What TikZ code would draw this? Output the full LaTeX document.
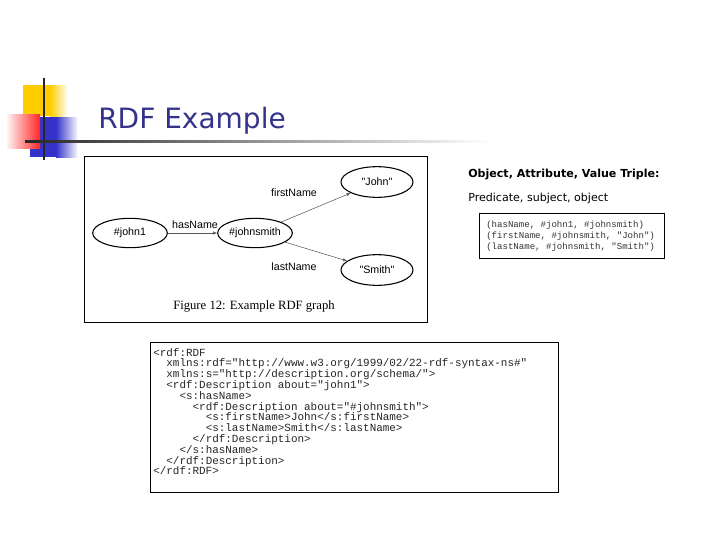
\documentclass[tikz,border=0pt]{standalone}
\usepackage{fontspec}
\setmainfont{Liberation Serif}
\newfontfamily\titlefont{DejaVu Sans}
\newfontfamily\labfont{Liberation Sans}
\newfontfamily\codefont{Liberation Mono}
\usetikzlibrary{shapes.geometric,arrows.meta}
\definecolor{navy}{RGB}{51,51,140}
\definecolor{sqyellow}{RGB}{255,204,0}
\definecolor{sqblue}{RGB}{51,51,204}
\begin{document}
\begin{tikzpicture}[x=0.75pt,y=-0.75pt,
  ell/.style={ellipse,draw,thick,inner sep=0pt,font=\labfont\fontsize{8}{9}\selectfont},
  edge/.style={draw=gray!70!black,-{Latex[length=3pt,width=2.5pt]}},
  elab/.style={font=\labfont\fontsize{8}{9}\selectfont},
  code/.style={anchor=base west,font=\codefont\fontsize{8.2}{10}\selectfont,inner sep=0pt},
  tcode/.style={anchor=base west,font=\codefont\fontsize{6.8}{8}\selectfont,inner sep=0pt,text=gray!40!black}]
\useasboundingbox (0,0) rectangle (720,540);
\fill[white] (0,0) rectangle (720,540);
% decoration
\fill[sqyellow] (23,85) rectangle (56,116);
\shade[left color=sqyellow, right color=white] (50,85) rectangle (68,116);
\fill[sqblue] (30,117) rectangle (62,157);
\shade[left color=sqblue, right color=white] (56,117) rectangle (78,157);
\shade[left color=red!5, right color=red!85] (7,114) rectangle (40,148);
\draw[line width=1.5pt,black!85] (44,78) -- (44,160);
\shade[left color=black!85, right color=white] (25,140) rectangle (490,142.5);
\node[anchor=base west,text=navy,font=\titlefont\fontsize{21}{24}\selectfont,inner sep=0pt] (title) at (98,128) {RDF Example};
% figure
\draw[semithick] (84,156) rectangle (427,322);
\node[ell,minimum width=56pt,minimum height=22pt] (j1) at (130,233) {\#john1};
\node[ell,minimum width=56pt,minimum height=22pt] (js) at (255,233) {\#johnsmith};
\node[ell,minimum width=54pt,minimum height=23pt] (jo) at (377,182) {"John"};
\node[ell,minimum width=54pt,minimum height=23pt] (sm) at (377,270) {"Smith"};
\draw[edge] (j1) -- (js);
\draw[edge] (js) -- (jo);
\draw[edge] (js) -- (sm);
\node[elab] (l1) at (195,225) {hasName};
\node[elab] (l2) at (294,193) {firstName};
\node[elab] (l3) at (294,267) {lastName};
\node[font=\fontsize{9.5}{11}\selectfont] (cap) at (254,306) {Figure 12: Example RDF graph};
% right text
\node[anchor=west,font=\titlefont\bfseries\fontsize{8.3}{10}\selectfont,inner sep=0pt] (h1) at (468,174) {Object, Attribute, Value Triple:};
\node[anchor=west,font=\titlefont\fontsize{8.3}{10}\selectfont,inner sep=0pt] (h2) at (468,198) {Predicate, subject, object};
\draw (479,213) rectangle (664,258);
\node[tcode] (t1) at (486,227) {(hasName, \#john1, \#johnsmith)};
\node[tcode] (t2) at (486,238) {(firstName, \#johnsmith, "John")};
\node[tcode] (t3) at (486,249) {(lastName, \#johnsmith, "Smith")};
% code
\draw (150,342) rectangle (558,492);
\foreach \i/\t in {0/{<rdf:RDF},
 1/{\ \ xmlns:rdf="http://www.w3.org/1999/02/22-rdf-syntax-ns\#"},
 2/{\ \ xmlns:s="http://description.org/schema/">},
 3/{\ \ <rdf:Description about="john1">},
 4/{\ \ \ \ <s:hasName>},
 5/{\ \ \ \ \ \ <rdf:Description about="\#johnsmith">},
 6/{\ \ \ \ \ \ \ \ <s:firstName>John</s:firstName>},
 7/{\ \ \ \ \ \ \ \ <s:lastName>Smith</s:lastName>},
 8/{\ \ \ \ \ \ </rdf:Description>},
 9/{\ \ \ \ </s:hasName>},
 10/{\ \ </rdf:Description>},
 11/{</rdf:RDF>}}
 \node[code,text=gray!30!black] (c\i) at (153,{356+10.8*\i}) {\t};
\end{tikzpicture}
\end{document}
